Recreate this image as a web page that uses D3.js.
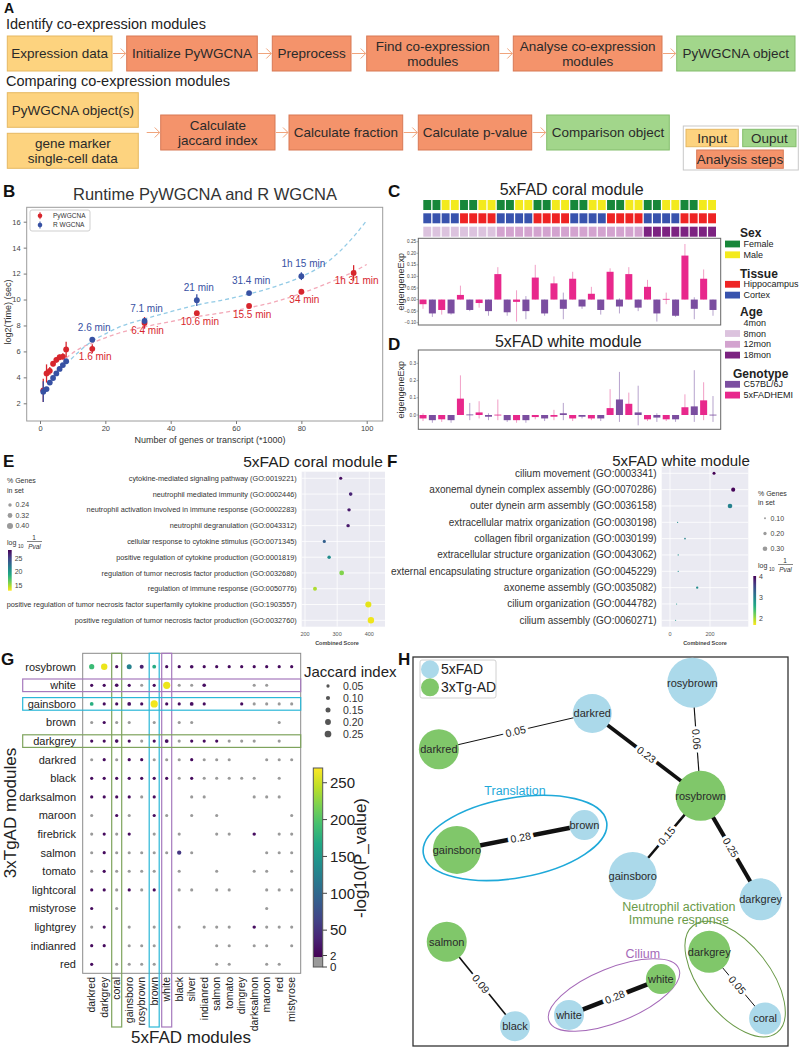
<!DOCTYPE html>
<html>
<head>
<meta charset="utf-8">
<script src="https://cdn.jsdelivr.net/npm/d3@7"></script>
<style>
  body { margin: 0; background: #fff; }
  svg { display: block; font-family: "Liberation Sans", Arial, Helvetica, sans-serif; }
</style>
</head>
<body>
<svg id="figure" width="799" height="1048"></svg>
<script>
// ---------- A: workflow ----------
const identifySteps = ["Expression data", "Initialize PyWGCNA", "Preprocess", "Find co-expression|modules", "Analyse co-expression|modules", "PyWGCNA object"];
const identifyKinds = ["input", "step", "step", "step", "step", "output"];
const compareInputs = ["PyWGCNA object(s)", "gene marker|single-cell data"];
const compareSteps = ["Calculate|jaccard index", "Calculate fraction", "Calculate p-value", "Comparison object"];
const compareKinds = ["step", "step", "step", "output"];

// ---------- B: runtime ----------
const pySizes = [1, 2, 3, 4, 5, 6, 7, 8, 16, 32, 48, 64, 80, 96];
const pyTime = [3.0, 4.3, 4.5, 5.05, 5.35, 5.55, 5.6, 6.15, 6.2, 8.2, 8.95, 9.5, 10.6, 12.05];
const pyErr = [0.9, 0.7, 0.3, 0.2, 0.2, 0.2, 0.25, 0.6, 0.35, 0.45, 0.15, 0.15, 0.15, 0.6];
const rSizes = [1, 2, 3, 4, 5, 6, 7, 8, 16, 32, 48, 64, 80];
const rTime = [2.9, 3.1, 3.6, 3.95, 4.3, 4.65, 4.95, 5.25, 6.9, 8.35, 9.95, 10.5, 11.8];
const rErr = [0.8, 0.15, 0.15, 0.1, 0.1, 0.1, 0.1, 0.1, 0.1, 0.2, 0.45, 0.1, 0.3];
const pyNoteSizes = [16, 32, 48, 64, 80, 96];
const pyNotes = ["1.6 min", "6.4 min", "10.6 min", "15.5 min", "34 min", "1h 31 min"];
const rNoteSizes = [16, 32, 48, 64, 80];
const rNotes = ["2.6 min", "7.1 min", "21 min", "31.4 min", "1h 15 min"];
const fitSizes = [8, 12, 16, 20, 24, 32, 40, 48, 56, 64, 72, 80, 88, 96, 100];
const pyFit = [5.5, 6.2, 6.65, 7.05, 7.4, 7.9, 8.3, 8.68, 8.99, 9.37, 9.83, 10.48, 11.25, 12.15, 12.7];
const rFit = [5.0, 6.0, 6.8, 7.35, 7.85, 8.5, 9.06, 9.58, 9.96, 10.43, 11.0, 11.76, 12.9, 14.85, 16.1];

// ---------- C/D: eigengene expression ----------
const sexStrip = "FFMMFFMMFFMMFFMMFFMMFFMMFFMMFFMM".split("");
const tissueStrip = "CCCCHHHHCCCCHHHHCCCCHHHHCCCCHHHH".split("");
const ageStrip = [].concat(Array(8).fill("8mon"), Array(16).fill("12mon"), Array(8).fill("18mon"));
const genotypeCols = d3.range(32).map(i => (i % 2 === 0 ? "5xFADHEMI" : "C57BL/6J"));
const coralVal = [-0.02, -0.06, -0.045, -0.06, 0.02, -0.045, -0.015, -0.05, 0.11, -0.055, -0.01, -0.05, 0.095, -0.06, 0.07, -0.04, 0.09, -0.03, 0.025, -0.045, 0.12, -0.03, 0.11, -0.035, 0.055, -0.06, 0.003, -0.07, 0.19, -0.04, 0.09, -0.045];
const coralLo = [-0.04, -0.075, -0.065, -0.065, 0, -0.05, -0.035, -0.07, 0, -0.07, -0.095, -0.085, 0, -0.07, 0, -0.085, 0, -0.04, 0, -0.065, 0, -0.06, 0, -0.05, 0, -0.095, -0.02, -0.075, 0, -0.085, 0, -0.07];
const coralHi = [0, 0, 0, 0, 0.06, 0, 0, 0, 0.14, 0, 0.04, 0.015, 0.15, 0, 0.1, 0.03, 0.12, 0, 0.055, 0, 0.135, 0.005, 0.14, 0, 0.085, 0, 0.03, 0, 0.24, 0.01, 0.13, 0];
const whiteVal = [-0.02, -0.03, -0.025, -0.03, 0.095, 0.003, 0.015, -0.01, 0.002, -0.03, -0.03, -0.03, -0.012, -0.02, -0.01, 0.01, -0.02, -0.01, -0.02, -0.02, 0.04, 0.09, 0.065, 0.015, -0.025, -0.015, -0.025, -0.025, 0.045, 0.05, 0.085, 0.002];
const whiteLo = [-0.035, -0.045, -0.04, -0.045, 0, -0.03, -0.02, -0.03, -0.03, -0.04, -0.045, -0.045, -0.025, -0.035, -0.03, -0.03, -0.035, -0.02, -0.03, -0.035, 0, -0.04, 0, -0.06, -0.035, -0.04, -0.035, -0.04, 0, -0.04, -0.03, -0.04];
const whiteHi = [0.01, 0, 0, 0, 0.23, 0.07, 0.08, 0.01, 0.09, 0, 0, 0, 0, 0, 0.03, 0.07, 0, 0, 0, 0, 0.15, 0.25, 0.13, 0.17, 0, 0.01, 0, 0, 0.12, 0.26, 0.19, 0.11];

// ---------- E/F: enrichment ----------
const coralTerms = ["cytokine-mediated signaling pathway (GO:0019221)", "neutrophil mediated immunity (GO:0002446)", "neutrophil activation involved in immune response (GO:0002283)", "neutrophil degranulation (GO:0043312)", "cellular response to cytokine stimulus (GO:0071345)", "positive regulation of cytokine production (GO:0001819)", "regulation of tumor necrosis factor production (GO:0032680)", "regulation of immune response (GO:0050776)", "positive regulation of tumor necrosis factor superfamily cytokine production (GO:1903557)", "positive regulation of tumor necrosis factor production (GO:0032760)"];
const coralScore = [311, 342, 337, 334, 260, 275, 314, 231, 397, 405];
const coralPct = [0.22, 0.25, 0.24, 0.24, 0.22, 0.24, 0.32, 0.27, 0.40, 0.42];
const coralLogP = [27.5, 26.5, 27, 27, 23.5, 20.8, 16, 15, 13.8, 13.6];
const whiteTerms = ["cilium movement (GO:0003341)", "axonemal dynein complex assembly (GO:0070286)", "outer dynein arm assembly (GO:0036158)", "extracellular matrix organization (GO:0030198)", "collagen fibril organization (GO:0030199)", "extracellular structure organization (GO:0043062)", "external encapsulating structure organization (GO:0045229)", "axoneme assembly (GO:0035082)", "cilium organization (GO:0044782)", "cilium assembly (GO:0060271)"];
const whiteScore = [220, 316, 300, 38, 75, 41, 41, 136, 33, 28];
const whitePct = [0.18, 0.26, 0.30, 0.05, 0.08, 0.05, 0.05, 0.13, 0.04, 0.04];
const whiteLogP = [4.1, 4.0, 3.0, 2.9, 3.0, 2.9, 2.9, 2.9, 2.8, 2.8];

// ---------- G: module overlap ----------
const fadModules = ["darkred", "darkgrey", "coral", "gainsboro", "rosybrown", "brown", "white", "black", "silver", "indianred", "salmon", "tomato", "dimgrey", "darksalmon", "maroon", "red", "mistyrose"];
const tgModules = ["rosybrown", "white", "gainsboro", "brown", "darkgrey", "darkred", "black", "darksalmon", "maroon", "firebrick", "salmon", "tomato", "lightcoral", "mistyrose", "lightgrey", "indianred", "red"];
// d = significant overlap, g = not significant, . = no overlap
const overlapRows = [
  "ddddddddddddddddd",
  "ddddgddggd...gg..",
  "dddddddddd..dgggg",
  "gdgg.g.gg......g.",
  "ddddgddgdddggg.g.",
  "gdgddgggdggg..ggg",
  "dddddddgdggggg.g.",
  "ddddgd..gg...ggg.",
  "g.dg.dg.g.g.....g",
  "gdgd.g.g..gg.d.gg",
  "gdgggggdg.....ggg",
  "gdgggg.g..g..gg.g",
  "ddgdgd.gg.gg..ggg",
  "d.g...........g..",
  "gd.g.g.g.ggg.dggg",
  "dd.ggg....gg.gg.g",
  "d.gggg....gg..gg."
];
const strongPairs = [
  ["rosybrown", "darkred", 185, 0.16], ["rosybrown", "darkgrey", 262, 0.23],
  ["rosybrown", "gainsboro", 120, 0.15], ["rosybrown", "rosybrown", 25, 0.09],
  ["rosybrown", "brown", 165, 0.08], ["rosybrown", "silver", 12, 0.07],
  ["white", "coral", 12, 0.07], ["white", "white", 262, 0.28], ["white", "indianred", 12, 0.07],
  ["gainsboro", "darkred", 170, 0.08], ["gainsboro", "gainsboro", 12, 0.08],
  ["gainsboro", "brown", 265, 0.28], ["gainsboro", "silver", 12, 0.08],
  ["darkgrey", "coral", 12, 0.07], ["darkgrey", "white", 12, 0.08],
  ["salmon", "black", 45, 0.11], ["lightgrey", "darksalmon", 12, 0.06], ["firebrick", "darksalmon", 12, 0.06]
];
const jaccardLegend = [0.05, 0.10, 0.15, 0.20, 0.25];
const pvalTicks = [250, 200, 150, 100, 50];

// ---------- H: network ----------
const netNodes = [
  { id: "rosybrown5", name: "rosybrown", set: "5xFAD", u: 74.5, v: 6.6, size: 1.0 },
  { id: "darkred5", name: "darkred", set: "5xFAD", u: 47.8, v: 14.5, size: 0.78 },
  { id: "darkred3", name: "darkred", set: "3xTg-AD", u: 6.9, v: 23.7, size: 0.8 },
  { id: "rosybrown3", name: "rosybrown", set: "3xTg-AD", u: 76.7, v: 35.7, size: 1.0 },
  { id: "brown5", name: "brown", set: "5xFAD", u: 45.7, v: 43.2, size: 0.6 },
  { id: "gainsboro3", name: "gainsboro", set: "3xTg-AD", u: 11.7, v: 49.6, size: 0.96 },
  { id: "gainsboro5", name: "gainsboro", set: "5xFAD", u: 58.6, v: 56.3, size: 0.96 },
  { id: "darkgrey5", name: "darkgrey", set: "5xFAD", u: 92.7, v: 62.3, size: 0.84 },
  { id: "salmon3", name: "salmon", set: "3xTg-AD", u: 9.0, v: 73.2, size: 0.8 },
  { id: "black5", name: "black", set: "5xFAD", u: 27.2, v: 94.9, size: 0.6 },
  { id: "white5", name: "white", set: "5xFAD", u: 41.6, v: 92.0, size: 0.6 },
  { id: "white3", name: "white", set: "3xTg-AD", u: 66.1, v: 82.8, size: 0.6 },
  { id: "darkgrey3", name: "darkgrey", set: "3xTg-AD", u: 79.0, v: 75.8, size: 0.84 },
  { id: "coral5", name: "coral", set: "5xFAD", u: 93.9, v: 92.9, size: 0.64 }
];
const netEdges = [
  ["darkred3", "darkred5", 0.05], ["darkred5", "rosybrown3", 0.23], ["rosybrown5", "rosybrown3", 0.06],
  ["rosybrown3", "gainsboro5", 0.15], ["rosybrown3", "darkgrey5", 0.25], ["gainsboro3", "brown5", 0.28],
  ["salmon3", "black5", 0.09], ["white5", "white3", 0.28], ["darkgrey3", "coral5", 0.05]
];
const netGroups = [
  { label: ["Translation"], color: "#1fa9d9", u: 27.2, v: 46.5, rx: 93, ry: 40, rot: -10, lu: 27.2, lv: 35.6, width: 1.6 },
  { label: ["Cilium"], color: "#a569b8", u: 53.6, v: 86.9, rx: 70, ry: 27, rot: -22, lu: 61.3, lv: 77.5, width: 1 },
  { label: ["Neutrophil activation", "Immune response"], color: "#6a9a48", u: 85.9, v: 82.8, rx: 68, ry: 35, rot: 52, lu: 70.9, lv: 65.3, width: 1 }
];

// ---------- drawing ----------
const svg = d3.select("#figure");
const defs = svg.append("defs");
svg.append("rect").attr("width", 799).attr("height", 1048).attr("fill", "#fff");

function letter(t, x, y, size) {
  svg.append("text").attr("x", x).attr("y", y).attr("font-size", size || 17).attr("font-weight", "bold").attr("fill", "#111").text(t);
}

function viridisGradient(id, reverse) {
  const g = defs.append("linearGradient").attr("id", id).attr("x1", 0).attr("y1", 1).attr("x2", 0).attr("y2", 0);
  d3.range(0, 1.001, 0.1).forEach(t => {
    g.append("stop").attr("offset", t).attr("stop-color", d3.interpolateViridis(reverse ? 1 - t : t));
  });
}

// ===== A =====
letter("A", 4, 13, 14);
svg.append("text").attr("x", 6).attr("y", 29).attr("font-size", 14.5).attr("fill", "#222").text("Identify co-expression modules");
svg.append("text").attr("x", 6).attr("y", 86).attr("font-size", 14.5).attr("fill", "#222").text("Comparing co-expression modules");

const boxStyle = {
  input: { fill: "#fdd37f", stroke: "#e6b862" },
  step: { fill: "#f4936b", stroke: "#d77855" },
  output: { fill: "#a2d68b", stroke: "#84bd6c" }
};

function flowBox(x0, x1, y0, y1, label, kind) {
  const g = svg.append("g");
  g.append("rect").attr("x", x0).attr("y", y0).attr("width", x1 - x0).attr("height", y1 - y0)
    .attr("fill", boxStyle[kind].fill).attr("stroke", boxStyle[kind].stroke);
  const lines = label.split("|");
  const cy = (y0 + y1) / 2;
  const t = g.append("text").attr("text-anchor", "middle").attr("font-size", 13.5).attr("fill", "#2a2a2a");
  lines.forEach((l, i) => {
    t.append("tspan").attr("x", (x0 + x1) / 2).attr("y", cy + (i - (lines.length - 1) / 2) * 15.5)
      .attr("dy", "0.36em").text(l);
  });
}

function flowArrow(x0, x1, y) {
  svg.append("line").attr("x1", x0).attr("x2", x1).attr("y1", y).attr("y2", y)
    .attr("stroke", "#f0a47c").attr("stroke-width", 1);
  svg.append("path").attr("d", `M${x1 - 5},${y - 5}L${x1},${y}L${x1 - 5},${y + 5}`)
    .attr("fill", "none").attr("stroke", "#f0a47c").attr("stroke-width", 1);
}

const row1X = [[7.3, 112], [126.7, 257.3], [272.3, 351], [366.7, 498.7], [513.3, 662], [676.7, 795]];
identifySteps.forEach((s, i) => {
  flowBox(row1X[i][0], row1X[i][1], 36, 71, s, identifyKinds[i]);
  if (i > 0) flowArrow(row1X[i - 1][1] + 1, row1X[i][0] - 1, 53.5);
});
const inputY = [[92.7, 127.3], [133.3, 168.3]];
compareInputs.forEach((s, i) => flowBox(7.3, 138.3, inputY[i][0], inputY[i][1], s, "input"));
const row2X = [[160.7, 275], [289, 402.7], [418.3, 531.7], [546.7, 669.3]];
compareSteps.forEach((s, i) => {
  flowBox(row2X[i][0], row2X[i][1], 115, 150, s, compareKinds[i]);
  flowArrow(i === 0 ? 146.7 : row2X[i - 1][1] + 1, row2X[i][0] - 1, 132.5);
});
// legend
svg.append("rect").attr("x", 683.3).attr("y", 126).attr("width", 115).attr("height", 44)
  .attr("fill", "#fff").attr("stroke", "#c8c8c8");
flowBox(686, 738.3, 129.3, 146.7, "Input", "input");
flowBox(742.7, 796, 129.3, 146.7, "Ouput", "output");
flowBox(696.7, 783.3, 150, 168.3, "Analysis steps", "step");

// ===== B =====
letter("B", 3, 197);
svg.append("text").attr("x", 205).attr("y", 200).attr("text-anchor", "middle").attr("font-size", 16.5).attr("fill", "#333")
  .text("Runtime PyWGCNA and R WGCNA");
const bx = d3.scaleLinear().domain([0, 100]).range([40, 366.7]);
const by = d3.scaleLinear().domain([2, 16]).range([403.3, 221.7]);
svg.append("rect").attr("x", 26.7).attr("y", 207.3).attr("width", 356).attr("height", 213.7)
  .attr("fill", "none").attr("stroke", "#9c9c9c");

function styleAxis(g, size) {
  g.select(".domain").remove();
  g.selectAll(".tick line").attr("stroke", "#777");
  g.selectAll(".tick text").attr("font-size", size).attr("fill", "#444").attr("font-family", "inherit");
}
svg.append("g").attr("transform", "translate(0,421)")
  .call(d3.axisBottom(bx).tickValues([0, 20, 40, 60, 80, 100]).tickSize(3).tickPadding(2))
  .call(g => styleAxis(g, 7.5));
svg.append("g").attr("transform", "translate(26.7,0)")
  .call(d3.axisLeft(by).tickValues(d3.range(2, 17, 2)).tickSize(3).tickPadding(3))
  .call(g => styleAxis(g, 7.5));
svg.append("text").attr("x", 210).attr("y", 443).attr("text-anchor", "middle").attr("font-size", 9).attr("fill", "#333")
  .text("Number of genes or transcript (*1000)");
svg.append("text").attr("transform", "translate(11,312) rotate(-90)").attr("text-anchor", "middle")
  .attr("font-size", 9).attr("fill", "#333").text("log2(Time) (sec)");

const fitLine = d3.line().x((d, i) => bx(fitSizes[i])).y(d => by(d)).curve(d3.curveMonotoneX);
svg.append("path").attr("d", fitLine(pyFit)).attr("fill", "none").attr("stroke", "#f3a9b8")
  .attr("stroke-width", 1.3).attr("stroke-dasharray", "4,3");
svg.append("path").attr("d", fitLine(rFit)).attr("fill", "none").attr("stroke", "#93cbe6")
  .attr("stroke-width", 1.3).attr("stroke-dasharray", "4,3");

const pyColor = "#d7262d", rColor = "#3751a3";
function runtimeSeries(xs, ys, errs, color) {
  const g = svg.append("g");
  g.selectAll("line").data(xs).join("line")
    .attr("x1", d => bx(d)).attr("x2", d => bx(d))
    .attr("y1", (d, i) => by(ys[i] - errs[i])).attr("y2", (d, i) => by(ys[i] + errs[i]))
    .attr("stroke", color).attr("stroke-width", 1.3);
  g.selectAll("circle").data(xs).join("circle")
    .attr("cx", d => bx(d)).attr("cy", (d, i) => by(ys[i])).attr("r", 2.9).attr("fill", color);
}
runtimeSeries(pySizes, pyTime, pyErr, pyColor);
runtimeSeries(rSizes, rTime, rErr, rColor);

svg.append("g").selectAll("text").data(pyNoteSizes).join("text")
  .attr("x", d => bx(d) + 3).attr("y", d => by(pyTime[pySizes.indexOf(d)]) + 8).attr("dy", "0.35em")
  .attr("text-anchor", "middle").attr("font-size", 10).attr("fill", pyColor).text((d, i) => pyNotes[i]);
svg.append("g").selectAll("text").data(rNoteSizes).join("text")
  .attr("x", d => bx(d) + 2).attr("y", d => by(rTime[rSizes.indexOf(d)]) - 12.5).attr("dy", "0.35em")
  .attr("text-anchor", "middle").attr("font-size", 10).attr("fill", rColor).text((d, i) => rNotes[i]);

// legend
svg.append("rect").attr("x", 30).attr("y", 210).attr("width", 60).attr("height", 21).attr("rx", 2)
  .attr("fill", "#fff").attr("stroke", "#cfcfcf");
[["PyWGCNA", pyColor, 215.7], ["R WGCNA", rColor, 225]].forEach(([name, c, y]) => {
  svg.append("line").attr("x1", 40).attr("x2", 40).attr("y1", y - 3.5).attr("y2", y + 3.5).attr("stroke", c);
  svg.append("circle").attr("cx", 40).attr("cy", y).attr("r", 2.3).attr("fill", c);
  svg.append("text").attr("x", 53).attr("y", y).attr("dy", "0.35em").attr("font-size", 6.5).attr("fill", "#333").text(name);
});

// ===== C / D =====
letter("C", 388, 197);
letter("D", 388, 350);
svg.append("text").attr("x", 571.7).attr("y", 195).attr("text-anchor", "middle").attr("font-size", 16).attr("fill", "#222")
  .text("5xFAD coral module");
svg.append("text").attr("x", 568.3).attr("y", 347).attr("text-anchor", "middle").attr("font-size", 16).attr("fill", "#222")
  .text("5xFAD white module");

const sexColors = { F: "#17873a", M: "#f3ea1d" };
const tissueColors = { H: "#ee2424", C: "#3853ad" };
const ageLevels = ["4mon", "8mon", "12mon", "18mon"];
const ageColors = { "4mon": "#ffffff", "8mon": "#dcc3de", "12mon": "#d3a3cf", "18mon": "#7c2381" };
const genoColors = { "C57BL/6J": "#7b4ea0", "5xFADHEMI": "#e8288c" };
const genoLight = { "C57BL/6J": "#a58bc0", "5xFADHEMI": "#ee86b8" };

const stripX = d3.scaleBand().domain(d3.range(32)).range([423.3, 716]).paddingInner(0.14);
[[sexStrip, sexColors, 200], [tissueStrip, tissueColors, 213.3], [ageStrip, ageColors, 226.7]].forEach(([arr, cmap, y]) => {
  svg.append("g").selectAll("rect").data(arr).join("rect")
    .attr("x", (d, i) => stripX(i)).attr("y", y).attr("width", stripX.bandwidth()).attr("height", 10)
    .attr("fill", d => cmap[d]);
});

function boxPanel(vals, los, his, y, top, bottom, ticks, fmt) {
  const x = d3.scaleBand().domain(d3.range(vals.length)).range([419.5, 716.5]).paddingInner(0.25);
  const g = svg.append("g");
  g.append("rect").attr("x", 418.3).attr("y", top).attr("width", 302.4).attr("height", bottom - top)
    .attr("fill", "none").attr("stroke", "#666");
  g.selectAll("line.w").data(vals).join("line").attr("class", "w")
    .attr("x1", (d, i) => x(i) + x.bandwidth() / 2).attr("x2", (d, i) => x(i) + x.bandwidth() / 2)
    .attr("y1", (d, i) => y(los[i])).attr("y2", (d, i) => y(his[i]))
    .attr("stroke", (d, i) => genoLight[genotypeCols[i]]).attr("stroke-width", 0.8);
  g.selectAll("rect.b").data(vals).join("rect").attr("class", "b")
    .attr("x", (d, i) => x(i)).attr("width", x.bandwidth())
    .attr("y", d => y(Math.max(0, d))).attr("height", d => Math.max(0.8, Math.abs(y(d) - y(0))))
    .attr("fill", (d, i) => genoColors[genotypeCols[i]]);
  g.selectAll("text.t").data(ticks).join("text").attr("class", "t")
    .attr("x", 416).attr("y", d => y(d)).attr("dy", "0.35em").attr("text-anchor", "end")
    .attr("font-size", 4.6).attr("fill", "#444").text(fmt);
  g.selectAll("line.t").data(ticks).join("line").attr("class", "t")
    .attr("x1", 416.5).attr("x2", 418.3).attr("y1", d => y(d)).attr("y2", d => y(d)).attr("stroke", "#666").attr("stroke-width", 0.5);
  g.append("text").attr("transform", `translate(404,${(top + bottom) / 2}) rotate(-90)`).attr("text-anchor", "middle")
    .attr("font-size", 9).attr("fill", "#333").text("eigengeneExp");
}
const cy = d3.scaleLinear().domain([-0.1, 0.25]).range([322.7, 241.7]);
boxPanel(coralVal, coralLo, coralHi, cy, 238.3, 325, [0.25, 0.2, 0.15, 0.1, 0.05, 0, -0.05, -0.1], d3.format(".2f"));
const dy = d3.scaleLinear().domain([0, 0.3]).range([415, 363.3]);
boxPanel(whiteVal, whiteLo, whiteHi, dy, 350, 429.3, [0, 0.1, 0.2, 0.3], d3.format(".1f"));

const legendGroups = [
  ["Sex", [["Female", sexColors.F], ["Male", sexColors.M]], 233],
  ["Tissue", [["Hippocampus", tissueColors.H], ["Cortex", tissueColors.C]], 273.3],
  ["Age", ageLevels.map(a => [a, ageColors[a]]), 311.7],
  ["Genotype", [["C57BL/6J", genoColors["C57BL/6J"]], ["5xFADHEMI", genoColors["5xFADHEMI"]]], 373.3]
];
legendGroups.forEach(([title, items, y0]) => {
  svg.append("text").attr("x", title === "Genotype" ? 733 : 740).attr("y", y0).attr("dy", "0.35em")
    .attr("font-size", 12).attr("font-weight", "bold").attr("fill", "#222").text(title);
  items.forEach(([name, c], i) => {
    const y = y0 + 11 + i * 10.8;
    svg.append("rect").attr("x", 725).attr("y", y - 3.4).attr("width", 15).attr("height", 6.8).attr("fill", c);
    svg.append("text").attr("x", 743.5).attr("y", y).attr("dy", "0.35em").attr("font-size", 9).attr("fill", "#222").text(name);
  });
});

// ===== E / F =====
letter("E", 3, 467);
letter("F", 387, 467);
viridisGradient("vir-rev", true);
viridisGradient("vir", false);

function logPvalLabel(x, y) {
  const g = svg.append("g").attr("fill", "#333");
  g.append("text").attr("x", x).attr("y", y + 2).attr("font-size", 7).text("log");
  g.append("text").attr("x", x + 11).attr("y", y + 4.5).attr("font-size", 5).text("10");
  g.append("text").attr("x", x + 27).attr("y", y - 3).attr("font-size", 6.5).attr("text-anchor", "middle").text("1");
  g.append("line").attr("x1", x + 20).attr("x2", x + 35).attr("y1", y - 1.5).attr("y2", y - 1.5).attr("stroke", "#333").attr("stroke-width", 0.6);
  g.append("text").attr("x", x + 27.5).attr("y", y + 5.5).attr("font-size", 6.5).attr("font-style", "italic")
    .attr("text-anchor", "middle").text("Pval");
}

function enrichPanel(o) {
  const x = d3.scaleLinear().domain(o.domain).range([o.left, o.right]);
  const y = d3.scalePoint().domain(o.terms).range([o.top + 6.6, o.bottom - 6.4]);
  const r = d3.scaleLinear().domain(o.rDomain).range(o.rRange);
  const col = v => d3.interpolateViridis(1 - (v - o.cDomain[0]) / (o.cDomain[1] - o.cDomain[0]));
  const g = svg.append("g");
  g.append("rect").attr("x", o.left).attr("y", o.top).attr("width", o.right - o.left).attr("height", o.bottom - o.top).attr("fill", "#eaeaf2");
  g.selectAll("line.h").data(o.terms).join("line").attr("class", "h")
    .attr("x1", o.left).attr("x2", o.right).attr("y1", d => y(d)).attr("y2", d => y(d)).attr("stroke", "#fff").attr("stroke-width", 0.8);
  g.selectAll("line.v").data(o.ticks).join("line").attr("class", "v")
    .attr("x1", d => x(d)).attr("x2", d => x(d)).attr("y1", o.top).attr("y2", o.bottom).attr("stroke", "#fff").attr("stroke-width", 0.8);
  g.selectAll("text.term").data(o.terms).join("text").attr("class", "term")
    .attr("x", o.left - 5).attr("y", d => y(d)).attr("dy", "0.35em").attr("text-anchor", "end")
    .attr("font-size", o.labelSize).attr("fill", "#333").text(d => d);
  g.selectAll("circle").data(o.terms).join("circle")
    .attr("cx", (d, i) => x(o.score[i])).attr("cy", d => y(d)).attr("r", (d, i) => r(o.pct[i]))
    .attr("fill", (d, i) => col(o.logp[i]));
  g.selectAll("text.tick").data(o.ticks).join("text").attr("class", "tick")
    .attr("x", d => x(d)).attr("y", o.bottom + 7.5).attr("dy", "0.35em").attr("text-anchor", "middle")
    .attr("font-size", 5.5).attr("fill", "#555").text(d => d);
  g.append("text").attr("x", o.titleX).attr("y", o.bottom + 16).attr("dy", "0.35em").attr("text-anchor", "middle")
    .attr("font-size", 5.5).attr("font-weight", "bold").attr("fill", "#444").text("Combined Score");
  g.append("text").attr("x", o.headX).attr("y", o.headY).attr("text-anchor", "middle").attr("font-size", o.headSize).attr("fill", "#222").text(o.title);
  // size legend
  const L = o.legend;
  g.append("text").attr("x", L.x).attr("y", L.y).attr("dy", "0.35em").attr("font-size", 7).attr("fill", "#333").text("% Genes");
  g.append("text").attr("x", L.x).attr("y", L.y + 9.5).attr("dy", "0.35em").attr("font-size", 7).attr("fill", "#333").text("in set");
  L.sizes.forEach((s, i) => {
    const yy = L.sizeY + i * L.sizeStep;
    g.append("circle").attr("cx", L.dotX).attr("cy", yy).attr("r", r(s)).attr("fill", "#9a9a9a");
    g.append("text").attr("x", L.dotX + 5.5).attr("y", yy).attr("dy", "0.35em").attr("font-size", 7).attr("fill", "#444").text(s.toFixed(2));
  });
  logPvalLabel(L.x, L.logY);
  const cb = d3.scaleLinear().domain(o.cDomain).range([L.cbBottom, L.cbTop]);
  g.append("rect").attr("x", L.cbX).attr("y", L.cbTop).attr("width", L.cbW).attr("height", L.cbBottom - L.cbTop).attr("fill", "url(#vir-rev)");
  L.cTicks.forEach(t => {
    g.append("text").attr("x", L.cbX + L.cbW + 3).attr("y", cb(t)).attr("dy", "0.35em").attr("font-size", 7).attr("fill", "#444").text(t);
  });
}

enrichPanel({
  terms: coralTerms, score: coralScore, pct: coralPct, logp: coralLogP,
  domain: [189.7, 448.8], left: 301.7, right: 385, top: 471.7, bottom: 626.7, ticks: [200, 300, 400],
  rDomain: [0.2, 0.42], rRange: [1.4, 3.2], cDomain: [13.2, 28], labelSize: 7.3,
  title: "5xFAD coral module", headX: 313, headY: 466.5, headSize: 15.5, titleX: 337,
  legend: { x: 7, y: 481, dotX: 10, sizes: [0.24, 0.32, 0.40], sizeY: 505, sizeStep: 10.5, logY: 543,
    cbX: 8, cbW: 3.7, cbTop: 550, cbBottom: 590.7, cTicks: [25, 20, 15] }
});
enrichPanel({
  terms: whiteTerms, score: whiteScore, pct: whitePct, logp: whiteLogP,
  domain: [-41.5, 391.5], left: 661.7, right: 748.3, top: 466.7, bottom: 626.7, ticks: [0, 200],
  rDomain: [0, 0.3], rRange: [0.3, 2.3], cDomain: [1.7, 4.03], labelSize: 10,
  title: "5xFAD white module", headX: 681, headY: 465.5, headSize: 15, titleX: 705,
  legend: { x: 758, y: 493.3, dotX: 765, sizes: [0.10, 0.20, 0.30], sizeY: 518.3, sizeStep: 15.2, logY: 566,
    cbX: 753.3, cbW: 2.8, cbTop: 576, cbBottom: 625, cTicks: [4, 3, 2] }
});

// ===== G =====
letter("G", 1, 665);
const gx = d3.scalePoint().domain(fadModules).range([91.7, 291.7]);
const gy = d3.scalePoint().domain(tgModules).range([666.7, 964.3]);
const jr = d3.scaleLinear().domain([0, 0.3]).range([1.2, 3.8]);
const pColor = p => (p < 2 ? "#9a9a9a" : d3.interpolateViridis((p - 2) / 268));

const cells = [];
overlapRows.forEach((row, ri) => {
  row.split("").forEach((ch, ci) => {
    if (ch === ".") return;
    cells.push({ tg: tgModules[ri], fad: fadModules[ci], p: ch === "d" ? 10 : 1, j: ch === "d" ? 0.045 : 0.04 });
  });
});
strongPairs.forEach(([tg, fad, p, j]) => {
  const c = cells.find(d => d.tg === tg && d.fad === fad);
  if (c) { c.p = p; c.j = j; } else cells.push({ tg, fad, p, j });
});

svg.append("rect").attr("x", 82.7).attr("y", 653.3).attr("width", 218).attr("height", 320)
  .attr("fill", "none").attr("stroke", "#8a8a8a");
const hiCols = [["coral", "#7ea35c"], ["brown", "#2bb7d8"], ["white", "#a679bd"]];
const hiRows = [["white", "#a679bd"], ["gainsboro", "#2bb7d8"], ["darkgrey", "#7ea35c"]];
hiCols.forEach(([m, c]) => {
  svg.append("rect").attr("x", gx(m) - 5).attr("y", 653.3).attr("width", 10).attr("height", 1027 - 653.3)
    .attr("fill", "none").attr("stroke", c).attr("stroke-width", 1.2);
});
hiRows.forEach(([m, c]) => {
  svg.append("rect").attr("x", 22.7).attr("y", gy(m) - 6.3).attr("width", 278).attr("height", 12.6)
    .attr("fill", "none").attr("stroke", c).attr("stroke-width", 1.2);
});
svg.append("g").selectAll("circle").data(cells).join("circle")
  .attr("cx", d => gx(d.fad)).attr("cy", d => gy(d.tg)).attr("r", d => jr(d.j)).attr("fill", d => pColor(d.p));
svg.append("g").selectAll("text").data(tgModules).join("text")
  .attr("x", 76).attr("y", d => gy(d)).attr("dy", "0.35em").attr("text-anchor", "end")
  .attr("font-size", 11).attr("fill", "#222").text(d => d);
svg.append("g").selectAll("text").data(fadModules).join("text")
  .attr("transform", d => `translate(${gx(d)},977) rotate(-90)`).attr("dy", "0.35em").attr("text-anchor", "end")
  .attr("font-size", 10.5).attr("fill", "#222").text(d => d);
svg.append("text").attr("x", 191).attr("y", 1043).attr("text-anchor", "middle").attr("font-size", 17).attr("fill", "#222").text("5xFAD modules");
svg.append("text").attr("transform", "translate(16,813) rotate(-90)").attr("text-anchor", "middle")
  .attr("font-size", 17).attr("fill", "#222").text("3xTgAD modules");

// jaccard legend
svg.append("text").attr("x", 304).attr("y", 677).attr("font-size", 15).attr("fill", "#222").text("Jaccard index");
jaccardLegend.forEach((j, i) => {
  const y = 686 + i * 12;
  svg.append("circle").attr("cx", 328).attr("cy", y).attr("r", jr(j)).attr("fill", "#555");
  svg.append("text").attr("x", 343).attr("y", y).attr("dy", "0.35em").attr("font-size", 10.5).attr("fill", "#333").text(j.toFixed(2));
});
// p-value colorbar
const pcb = d3.scaleLinear().domain([0, 270]).range([967, 768]);
svg.append("rect").attr("x", 313.3).attr("y", 768).attr("width", 9.4).attr("height", 189).attr("fill", "url(#vir)");
svg.append("rect").attr("x", 313.3).attr("y", 957).attr("width", 9.4).attr("height", 10).attr("fill", "#9a9a9a");
svg.append("rect").attr("x", 313.3).attr("y", 768).attr("width", 9.4).attr("height", 199).attr("fill", "none").attr("stroke", "#555").attr("stroke-width", 1);
pvalTicks.forEach(t => {
  svg.append("line").attr("x1", 322.7).attr("x2", 327).attr("y1", pcb(t)).attr("y2", pcb(t)).attr("stroke", "#444");
  svg.append("text").attr("x", 330).attr("y", pcb(t)).attr("dy", "0.35em").attr("font-size", 15).attr("fill", "#222").text(t);
});
[["2", 955.5], ["0", 967]].forEach(([t, y]) => {
  svg.append("line").attr("x1", 322.7).attr("x2", 327).attr("y1", y).attr("y2", y).attr("stroke", "#444");
  svg.append("text").attr("x", 330).attr("y", y).attr("dy", "0.35em").attr("font-size", 11.5).attr("fill", "#222").text(t);
});
svg.append("text").attr("transform", "translate(366,858) rotate(-90)").attr("text-anchor", "middle")
  .attr("font-size", 17).attr("fill", "#222").text("-log10(P_value)");

// ===== H =====
letter("H", 398, 665);
const hx = d3.scaleLinear().domain([0, 100]).range([413, 788]);
const hy = d3.scaleLinear().domain([0, 100]).range([657, 1046]);
const hr = d3.scaleLinear().domain([0, 1]).range([0, 25]);
const ew = d3.scaleLinear().domain([0.05, 0.28]).range([1, 4.5]);
const setColors = { "5xFAD": "#abd9ea", "3xTg-AD": "#80c76a" };
const nodeById = new Map(netNodes.map(n => [n.id, n]));

svg.append("rect").attr("x", 413).attr("y", 657).attr("width", 375).attr("height", 389)
  .attr("fill", "#fff").attr("stroke", "#333").attr("stroke-width", 1.3);

netGroups.forEach(gr => {
  svg.append("ellipse").attr("transform", `translate(${hx(gr.u)},${hy(gr.v)}) rotate(${gr.rot})`)
    .attr("rx", gr.rx).attr("ry", gr.ry).attr("fill", "none").attr("stroke", gr.color).attr("stroke-width", gr.width);
});
netEdges.forEach(([s, t, w]) => {
  const a = nodeById.get(s), b = nodeById.get(t);
  svg.append("line").attr("x1", hx(a.u)).attr("y1", hy(a.v)).attr("x2", hx(b.u)).attr("y2", hy(b.v))
    .attr("stroke", "#111").attr("stroke-width", ew(w));
});
svg.append("g").selectAll("circle").data(netNodes).join("circle")
  .attr("cx", d => hx(d.u)).attr("cy", d => hy(d.v)).attr("r", d => hr(d.size)).attr("fill", d => setColors[d.set]);
svg.append("g").selectAll("text").data(netNodes).join("text")
  .attr("x", d => hx(d.u)).attr("y", d => hy(d.v)).attr("dy", "0.35em").attr("text-anchor", "middle")
  .attr("font-size", 11).attr("fill", "#2a2a2a").text(d => d.name);
netEdges.forEach(([s, t, w]) => {
  const a = nodeById.get(s), b = nodeById.get(t);
  const x1 = hx(a.u), y1 = hy(a.v), x2 = hx(b.u), y2 = hy(b.v);
  let ang = Math.atan2(y2 - y1, x2 - x1) * 180 / Math.PI;
  if (ang > 90) ang -= 180;
  if (ang < -90) ang += 180;
  svg.append("text").attr("transform", `translate(${(x1 + x2) / 2},${(y1 + y2) / 2}) rotate(${ang})`)
    .attr("dy", "0.35em").attr("text-anchor", "middle").attr("font-size", 10.5).attr("fill", "#222")
    .attr("stroke", "#fff").attr("stroke-width", 6).attr("paint-order", "stroke").text(w.toFixed(2));
});
netGroups.forEach(gr => {
  gr.label.forEach((l, i) => {
    svg.append("text").attr("x", hx(gr.lu)).attr("y", hy(gr.lv) + i * 13.3).attr("text-anchor", "middle")
      .attr("font-size", 12.5).attr("fill", gr.color).text(l);
  });
});
// legend
svg.append("rect").attr("x", 420).attr("y", 660).attr("width", 76).attr("height", 38).attr("rx", 2)
  .attr("fill", "#fff").attr("stroke", "#d0d0d0");
Object.entries(setColors).forEach(([name, c], i) => {
  const y = 669.3 + i * 18;
  svg.append("circle").attr("cx", 430).attr("cy", y).attr("r", 9).attr("fill", c);
  svg.append("text").attr("x", 441).attr("y", y).attr("dy", "0.35em").attr("font-size", 14).attr("fill", "#222").text(name);
});
</script>
</body>
</html>
